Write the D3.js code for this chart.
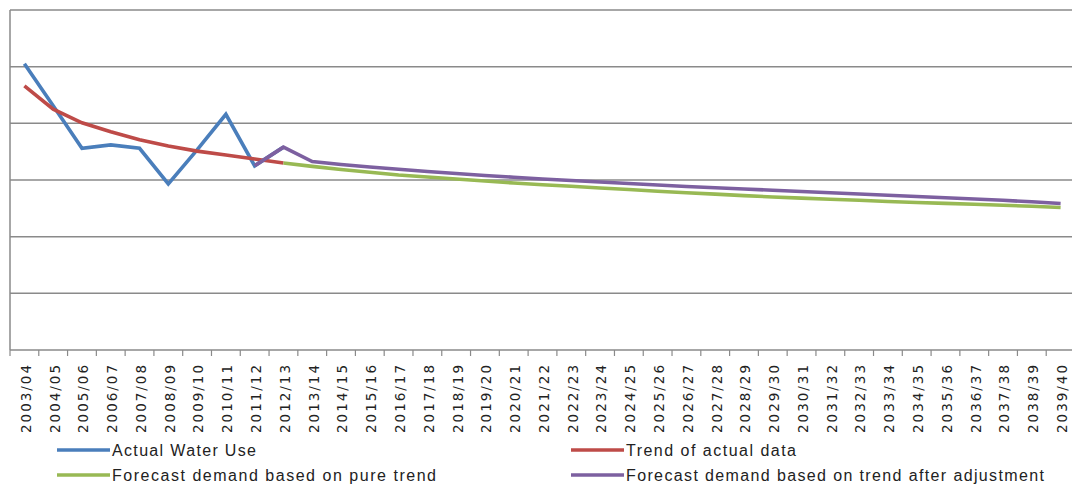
<!DOCTYPE html>
<html>
<head>
<meta charset="utf-8">
<script src="https://cdn.jsdelivr.net/npm/d3@7"></script>
<style>
  html, body { margin: 0; padding: 0; background: #fff; }
  svg { display: block; }
</style>
</head>
<body>
<svg id="chart" width="1072" height="488"></svg>
<script>
// Financial years on the category axis
const years = [
  "2003/04","2004/05","2005/06","2006/07","2007/08","2008/09","2009/10","2010/11",
  "2011/12","2012/13","2013/14","2014/15","2015/16","2016/17","2017/18","2018/19",
  "2019/20","2020/21","2021/22","2022/23","2023/24","2024/25","2025/26","2026/27",
  "2027/28","2028/29","2029/30","2030/31","2031/32","2032/33","2033/34","2034/35",
  "2035/36","2036/37","2037/38","2038/39","2039/40"
];

// Recorded demand (2003/04 – 2012/13)
const actualUse = [505, 431, 356, 362, 356, 293, 353, 416, 325, 358];

// Fitted trend through the recorded years (2003/04 – 2012/13)
const actualTrend = [466, 425, 401, 385, 371, 360, 351, 344, 337, 330];

// Forecast from the pure trend (2012/13 – 2039/40)
const pureTrendForecast = [
  330, 324, 318.5, 313.6, 308.8, 305.3, 301.8, 298.2, 294.7, 291.7,
  288.9, 285.9, 283.1, 280.2, 277.4, 275, 272.5, 270, 268.1, 266.1,
  264.2, 262.1, 260.3, 258.7, 257.1, 255.5, 253.6, 251.5
];

// Forecast from the adjusted trend (2011/12 – 2039/40)
const adjustedForecast = [
  325, 358, 332.6, 327.4, 322.9, 318.9, 315, 311.5, 307.9, 304.9,
  301.8, 299.1, 296.5, 293.8, 291.2, 288.5, 286.2, 284.1, 282, 279.7,
  277.4, 275.3, 273, 270.9, 268.6, 266.5, 264.2, 261.5, 258.5
];

const yTicks = [0, 100, 200, 300, 400, 500, 600];

const seriesDefs = [
  { name: "Actual Water Use", color: "#4a7ebb", start: 0, values: actualUse },
  { name: "Trend of actual data", color: "#be4b48", start: 0, values: actualTrend },
  { name: "Forecast demand based on pure trend", color: "#98b954", start: 9, values: pureTrendForecast },
  { name: "Forecast demand based on trend after adjustment", color: "#7d60a0", start: 8, values: adjustedForecast }
];

const svg = d3.select("#chart");
const plot = { left: 10, right: 1075, top: 10, bottom: 350 };

const x = d3.scaleBand().domain(years).range([plot.left, plot.right]).padding(0);
const y = d3.scaleLinear().domain([0, 600]).range([plot.bottom, plot.top]);

// Horizontal gridlines
svg.append("g")
  .selectAll("line")
  .data(yTicks.filter(d => d > 0))
  .join("line")
  .attr("x1", plot.left).attr("x2", 1072)
  .attr("y1", d => y(d)).attr("y2", d => y(d))
  .attr("stroke", "#8a8a8a").attr("stroke-width", 1.5);

// Vertical axis line
svg.append("line")
  .attr("x1", plot.left).attr("x2", plot.left)
  .attr("y1", y(600)).attr("y2", y(0))
  .attr("stroke", "#8a8a8a").attr("stroke-width", 1.5);

// Category axis with tick marks between categories
const xAxis = svg.append("g");
xAxis.append("line")
  .attr("x1", plot.left).attr("x2", 1072)
  .attr("y1", y(0)).attr("y2", y(0))
  .attr("stroke", "#8a8a8a").attr("stroke-width", 1.5);
xAxis.selectAll("line.tick")
  .data(years)
  .join("line")
  .attr("class", "tick")
  .attr("x1", d => x(d)).attr("x2", d => x(d))
  .attr("y1", y(0)).attr("y2", y(0) + 6)
  .attr("stroke", "#8a8a8a").attr("stroke-width", 1.2);
xAxis.selectAll("text")
  .data(years)
  .join("text")
  .attr("transform", d => `translate(${x(d) + x.bandwidth() / 2 + 1.5},${y(0) + 15}) rotate(-90)`)
  .attr("dy", "0.36em")
  .attr("text-anchor", "end")
  .attr("font-family", "'DejaVu Sans', sans-serif")
  .attr("font-size", 13.5)
  .attr("fill", "#222")
  .attr("textLength", 68)
  .text(d => d);

// Series lines
const line = d3.line()
  .x(d => x(d.year) + x.bandwidth() / 2)
  .y(d => y(d.value));

const lines = svg.append("g");
seriesDefs.forEach(s => {
  const pts = s.values.map((v, i) => ({ year: years[s.start + i], value: v }));
  lines.append("path")
    .datum(pts)
    .attr("d", line)
    .attr("fill", "none")
    .attr("stroke", s.color)
    .attr("stroke-width", 3.6)
    .attr("stroke-linejoin", "miter")
    .attr("stroke-linecap", "butt");
});

// Legend in two columns
const legendPos = [
  { x: 57, y: 450, w: 144 },
  { x: 571, y: 450, w: 170 },
  { x: 57, y: 475, w: 324 },
  { x: 571, y: 475, w: 418 }
];
const legend = svg.append("g");
seriesDefs.forEach((s, i) => {
  const p = legendPos[i];
  legend.append("line")
    .attr("x1", p.x).attr("x2", p.x + 53)
    .attr("y1", p.y).attr("y2", p.y)
    .attr("stroke", s.color).attr("stroke-width", 3.6);
  legend.append("text")
    .attr("x", p.x + 55).attr("y", p.y + 6)
    .attr("font-family", "'Liberation Sans', Arial, sans-serif")
    .attr("font-size", 16)
    .attr("fill", "#222")
    .attr("textLength", p.w)
    .text(s.name);
});
</script>
</body>
</html>
